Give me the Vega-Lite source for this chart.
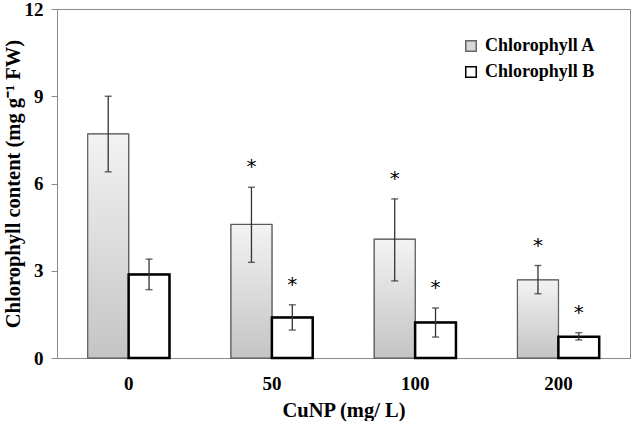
{
  "$schema": "https://vega.github.io/schema/vega-lite/v6.json",
  "width": 573,
  "height": 349,
  "autosize": {"type": "none"},
  "padding": {"left": 57, "top": 9, "right": 3, "bottom": 63},
  "background": "white",
  "config": {
    "view": {"stroke": "#8a8a8a", "strokeWidth": 1},
    "font": "Liberation Serif"
  },
  "data": {
    "values": [
      {"conc": "0", "series": "Chlorophyll A", "mean": 7.7, "lo": 6.4, "hi": 9.0, "sig": ""},
      {"conc": "0", "series": "Chlorophyll B", "mean": 2.87, "lo": 2.35, "hi": 3.4, "sig": ""},
      {"conc": "50", "series": "Chlorophyll A", "mean": 4.59, "lo": 3.29, "hi": 5.87, "sig": "*"},
      {"conc": "50", "series": "Chlorophyll B", "mean": 1.39, "lo": 0.96, "hi": 1.83, "sig": "*"},
      {"conc": "100", "series": "Chlorophyll A", "mean": 4.08, "lo": 2.65, "hi": 5.47, "sig": "*"},
      {"conc": "100", "series": "Chlorophyll B", "mean": 1.22, "lo": 0.72, "hi": 1.72, "sig": "*"},
      {"conc": "200", "series": "Chlorophyll A", "mean": 2.68, "lo": 2.21, "hi": 3.18, "sig": "*"},
      {"conc": "200", "series": "Chlorophyll B", "mean": 0.73, "lo": 0.62, "hi": 0.87, "sig": "*"}
    ]
  },
  "encoding": {
    "x": {
      "field": "conc", "type": "nominal", "sort": ["0", "50", "100", "200"],
      "scale": {"domain": ["0", "50", "100", "200"], "paddingInner": 0.43, "paddingOuter": 0.215},
      "axis": {
        "title": "CuNP (mg/ L)", "labelAngle": 0, "ticks": false,
        "domainColor": "#8a8a8a", "labelPadding": 16,
        "labelFont": "Liberation Serif", "labelFontSize": 19, "labelFontWeight": "bold", "labelColor": "black",
        "titleFont": "Liberation Serif", "titleFontSize": 20.5, "titleFontWeight": "bold", "titleColor": "black",
        "titlePadding": 7
      }
    },
    "xOffset": {
      "field": "series", "type": "nominal",
      "scale": {"domain": ["Chlorophyll A", "Chlorophyll B"], "paddingInner": 0, "paddingOuter": 0}
    }
  },
  "layer": [
    {
      "mark": {"type": "bar", "strokeWidth": 1.5},
      "encoding": {
        "y": {
          "field": "mean", "type": "quantitative",
          "scale": {"domain": [0, 12], "nice": false},
          "axis": {
            "title": "Chlorophyll content (mg g⁻¹ FW)", "values": [0, 3, 6, 9, 12], "grid": false,
            "domainColor": "#8a8a8a", "tickColor": "#8a8a8a", "tickSize": 6, "labelPadding": 8,
            "labelFont": "Liberation Serif", "labelFontSize": 19, "labelFontWeight": "bold", "labelColor": "black",
            "titleFont": "Liberation Serif", "titleFontSize": 20.5, "titleFontWeight": "bold", "titleColor": "black",
            "titlePadding": 1
          }
        },
        "fill": {
          "field": "series", "type": "nominal",
          "scale": {"domain": ["Chlorophyll A", "Chlorophyll B"], "range": ["#d8d8d8", "#ffffff"]},
          "legend": {
            "title": null, "orient": "none", "legendX": 405, "legendY": 28,
            "symbolType": "square", "symbolSize": 110, "symbolStrokeWidth": 1.5,
            "labelFont": "Liberation Serif", "labelFontSize": 18, "labelFontWeight": "bold", "labelColor": "black",
            "labelOffset": 5, "rowPadding": 8, "padding": 0
          }
        },
        "stroke": {
          "field": "series", "type": "nominal",
          "scale": {"domain": ["Chlorophyll A", "Chlorophyll B"], "range": ["#666666", "#000000"]},
          "legend": {
            "title": null, "orient": "none", "legendX": 405, "legendY": 28,
            "symbolType": "square", "symbolSize": 110, "symbolStrokeWidth": 1.5,
            "labelFont": "Liberation Serif", "labelFontSize": 18, "labelFontWeight": "bold", "labelColor": "black",
            "labelOffset": 5, "rowPadding": 8, "padding": 0
          }
        }
      }
    },
    {
      "transform": [{"filter": "datum.series === 'Chlorophyll A'"}],
      "mark": {
        "type": "bar", "stroke": "#5a5a5a", "strokeWidth": 1,
        "fill": {"gradient": "linear", "x1": 0, "y1": 0, "x2": 0, "y2": 1,
          "stops": [{"offset": 0, "color": "#f3f3f3"}, {"offset": 1, "color": "#c4c4c4"}]}
      },
      "encoding": {"y": {"field": "mean", "type": "quantitative"}}
    },
    {
      "transform": [{"filter": "datum.series === 'Chlorophyll B'"}],
      "mark": {"type": "bar", "fill": "#ffffff", "stroke": "#000000", "strokeWidth": 2.5},
      "encoding": {"y": {"field": "mean", "type": "quantitative"}}
    },
    {
      "mark": {"type": "rule", "color": "#333333", "strokeWidth": 1.3},
      "encoding": {
        "y": {"field": "lo", "type": "quantitative"},
        "y2": {"field": "hi"}
      }
    },
    {
      "mark": {"type": "tick", "orient": "horizontal", "color": "#333333", "size": 7, "thickness": 1.5},
      "encoding": {"y": {"field": "lo", "type": "quantitative"}}
    },
    {
      "mark": {"type": "tick", "orient": "horizontal", "color": "#333333", "size": 7, "thickness": 1.5},
      "encoding": {"y": {"field": "hi", "type": "quantitative"}}
    },
    {
      "mark": {"type": "text", "font": "DejaVu Sans", "fontSize": 20, "color": "black", "baseline": "alphabetic", "dy": -14},
      "encoding": {
        "y": {"field": "hi", "type": "quantitative"},
        "text": {"field": "sig"}
      }
    }
  ]
}
